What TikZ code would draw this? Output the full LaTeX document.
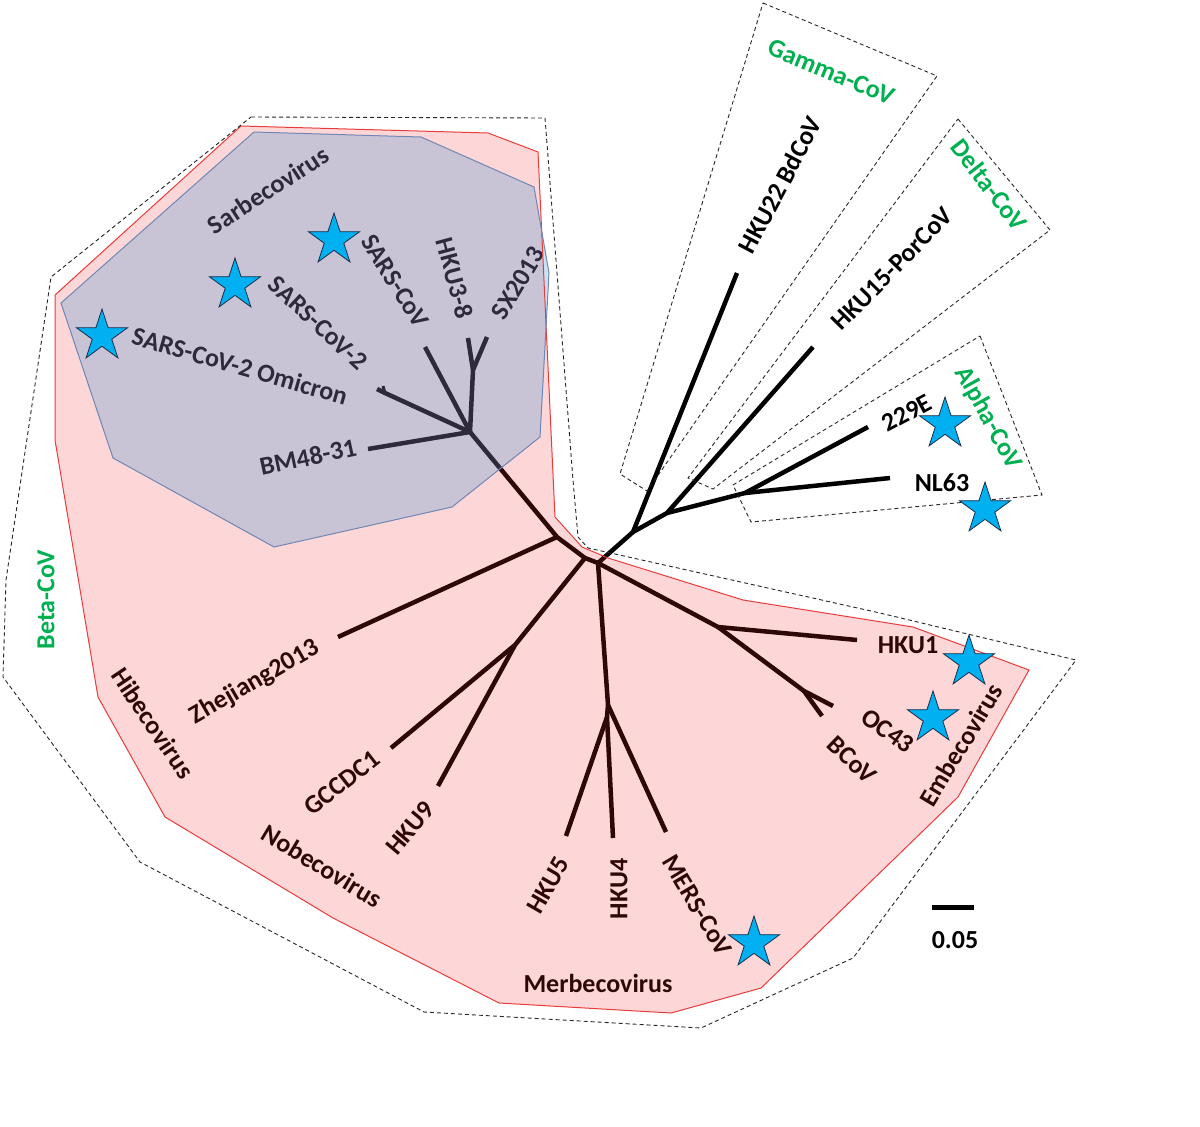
\documentclass[tikz,border=0pt]{standalone}
\usepackage{fontspec}
\setmainfont{Carlito}
\usetikzlibrary{shapes.geometric}
\definecolor{pinkfill}{RGB}{245,40,40}
\definecolor{bluefill}{RGB}{51,142,215}
\definecolor{redline}{RGB}{232,60,60}
\definecolor{blueline}{RGB}{110,135,180}
\definecolor{cvgreen}{RGB}{0,176,80}
\definecolor{starcyan}{RGB}{0,176,240}
\definecolor{stardark}{RGB}{25,45,75}
\begin{document}
\begin{tikzpicture}[x=1pt,y=-1pt,
  branch/.style={line width=4.5pt, line join=round},
  lbl/.style={font=\bfseries\fontsize{26}{30}\selectfont, inner sep=0pt},
  grn/.style={lbl, text=cvgreen},
  dbox/.style={draw=black!85, dash pattern=on 4pt off 3pt, line width=0.9pt},
  cvstar/.style={star, star points=5, star point ratio=2.618, minimum size=54pt, inner sep=0pt, fill=starcyan, draw=stardark, line width=0.8pt}]
\useasboundingbox (0,0) rectangle (1200,1127);

% ---------- tree nodes ----------
\coordinate (R) at (598,563);
\coordinate (B0) at (585,558);
\coordinate (S0) at (557,537);
\coordinate (N1) at (470,432);
\coordinate (H38) at (473,370);
\coordinate (O2) at (385,393);
\coordinate (Nb) at (515,645);
\coordinate (M1) at (608,705);
\coordinate (M2) at (607,717);
\coordinate (E1) at (718,627);
\coordinate (E2) at (804,691);
\coordinate (G0) at (633,532);
\coordinate (G1) at (667,513);
\coordinate (A0) at (745,493);
% tips
\coordinate (tBM) at (368,449);
\coordinate (tOm) at (377,389);
\coordinate (tOm2) at (383,386);
\coordinate (tSC) at (425,347);
\coordinate (tH38) at (468,338);
\coordinate (tSX) at (487,337);
\coordinate (tZhe) at (338,637);
\coordinate (tGCC) at (391,748);
\coordinate (tH9) at (438,786);
\coordinate (tH5) at (566,836);
\coordinate (tH4) at (613,838);
\coordinate (tMERS) at (666,832);
\coordinate (tH1) at (857,640);
\coordinate (tOC) at (833,706);
\coordinate (tBC) at (822,716);
\coordinate (tH22) at (737,273);
\coordinate (tH15) at (813,347);
\coordinate (t229) at (868,427);
\coordinate (tNL) at (890,478);

% ---------- branches ----------
\draw[branch] (R) -- (B0) -- (S0) -- (N1);
\draw[branch] (N1) -- (tBM);
\draw[branch] (N1) -- (O2) -- (tOm);
\draw[branch, line width=3pt] (O2) -- (tOm2);
\draw[branch] (N1) -- (tSC);
\draw[branch] (N1) -- (H38) -- (tH38);
\draw[branch] (H38) -- (tSX);
\draw[branch] (S0) -- (tZhe);
\draw[branch] (B0) -- (Nb) -- (tGCC);
\draw[branch] (Nb) -- (tH9);
\draw[branch] (R) -- (M1) -- (M2) -- (tH5);
\draw[branch] (M2) -- (tH4);
\draw[branch] (M1) -- (tMERS);
\draw[branch] (R) -- (E1) -- (tH1);
\draw[branch] (E1) -- (E2) -- (tOC);
\draw[branch] (E2) -- (tBC);
\draw[branch] (R) -- (G0) -- (tH22);
\draw[branch] (G0) -- (G1) -- (tH15);
\draw[branch] (G1) -- (A0) -- (t229);
\draw[branch] (A0) -- (tNL);

% ---------- taxon labels ----------
\node[lbl, rotate=33]  (lSarb) at (268,190) {Sarbecovirus};
\node[lbl, rotate=-58] (lSC)   at (395,281) {SARS-CoV};
\node[lbl, rotate=-75] (lH38)  at (455,278) {HKU3-8};
\node[lbl, rotate=59]  (lSX)   at (518,283) {SX2013};
\node[lbl, rotate=-43] (lSC2)  at (318,323) {SARS-CoV-2};
\node[lbl, rotate=-16] (lOm)   at (240,366) {SARS-CoV-2 Omicron};
\node[lbl, rotate=12]  (lBM)   at (308,457) {BM48-31};
\node[lbl, rotate=-56] (lHibe) at (153,723) {Hibecovirus};
\node[lbl, rotate=30]  (lZhe)  at (255,682) {Zhejiang2013};
\node[lbl, rotate=38]  (lGCC)  at (342,783) {GCCDC1};
\node[lbl, rotate=50]  (lH9)   at (410,828) {HKU9};
\node[lbl, rotate=-31] (lNobe) at (322,866) {Nobecovirus};
\node[lbl, rotate=60]  (lH5)   at (548,885) {HKU5};
\node[lbl, rotate=90]  (lH4)   at (619,889) {HKU4};
\node[lbl, rotate=-59] (lMERS) at (697,905) {MERS-CoV};
\node[lbl]             (lMerb) at (598,983) {Merbecovirus};
\node[lbl]             (lH1)   at (908,645) {HKU1};
\node[lbl, rotate=-35] (lOC)   at (888,731) {OC43};
\node[lbl, rotate=-44] (lBC)   at (852,760) {BCoV};
\node[lbl, rotate=59]  (lEmbe) at (961,745) {Embecovirus};
\node[lbl, rotate=62]  (lH22)  at (780,185) {HKU22 BdCoV};
\node[lbl, rotate=45.5] (lH15) at (892,269) {HKU15-PorCoV};
\node[lbl, rotate=28]  (l229)  at (907,413) {229E};
\node[lbl]             (lNL)   at (942,483) {NL63};

% ---------- translucent clade areas ----------
\fill[pinkfill, fill opacity=0.19] (241,126) -- (488,133) -- (538,152) -- (555,517) -- (582,547) -- (608,558) -- (743,600) -- (913,627) -- (1029,670) -- (958,797) -- (761,988) -- (671,1013) -- (499,1003) -- (333,918) -- (165,817) -- (98,697) -- (55,440) -- (55,295) -- cycle;
\fill[bluefill, fill opacity=0.26] (254,132) -- (421,137) -- (534,187) -- (549,273) -- (540,437) -- (452,507) -- (274,547) -- (113,458) -- (61,303) -- cycle;
\draw[redline, line width=1pt] (241,126) -- (488,133) -- (538,152) -- (555,517) -- (582,547) -- (608,558) -- (743,600) -- (913,627) -- (1029,670) -- (958,797) -- (761,988) -- (671,1013) -- (499,1003) -- (333,918) -- (165,817) -- (98,697) -- (55,440) -- (55,295) -- cycle;
\draw[blueline, line width=1pt] (254,132) -- (421,137) -- (534,187) -- (549,273) -- (540,437) -- (452,507) -- (274,547) -- (113,458) -- (61,303) -- cycle;

% ---------- dashed genus boxes ----------
\draw[dbox] (251,117) -- (545,118) -- (573,480) -- (578,537) -- (588,548) -- (880,613) -- (1076,660) -- (853,958) -- (701,1028) -- (424,1012) -- (140,862) -- (3,677) -- (6,580) -- (51,277) -- cycle;
\draw[dbox] (763,3) -- (937,76) -- (647,491) -- (620,474) -- cycle;
\draw[dbox] (958,119) -- (1050,230) -- (713,489) -- (688,478) -- cycle;
\draw[dbox] (980,336) -- (1042,495) -- (751,522) -- (733,485) -- cycle;

% ---------- genus labels ----------
\node[grn, rotate=90]    (gBeta)  at (46,600)  {Beta-CoV};
\node[grn, rotate=-22.6] (gGamma) at (831,72)  {Gamma-CoV};
\node[grn, rotate=-52.5] (gDelta) at (989,185) {Delta-CoV};
\node[grn, rotate=-61]   (gAlpha) at (988,418) {Alpha-CoV};

% ---------- stars ----------
\node[cvstar] (sSC)   at (334,240) {};
\node[cvstar] (sSC2)  at (235,285) {};
\node[cvstar] (sOm)   at (102,336) {};
\node[cvstar] (s229)  at (945,424) {};
\node[cvstar] (sNL)   at (985,509) {};
\node[cvstar] (sH1)   at (969,662) {};
\node[cvstar] (sOC)   at (933,718) {};
\node[cvstar] (sMERS) at (754,943) {};

% ---------- scale bar ----------
\coordinate (sbL) at (932,907);
\coordinate (sbR) at (974,907);
\draw[line width=5pt] (sbL) -- (sbR);
\node[lbl] (sbT) at (955,940) {0.05};
\end{tikzpicture}
\end{document}
